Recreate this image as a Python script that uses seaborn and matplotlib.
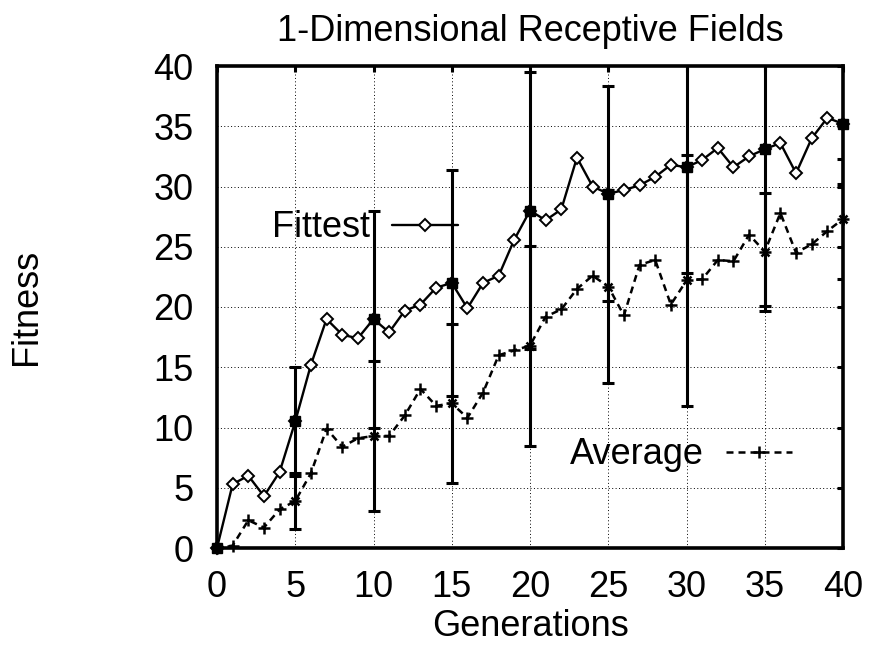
import matplotlib
matplotlib.use("Agg")
import matplotlib.pyplot as plt
import seaborn as sns
import pandas as pd

# ---- data ----
generations = list(range(41))
fittest = [0.0, 5.3, 6.0, 4.3, 6.3, 10.5, 15.2, 19.0, 17.7, 17.4,
           19.0, 17.9, 19.7, 20.2, 21.6, 22.0, 19.9, 22.0, 22.6, 25.6,
           28.0, 27.2, 28.1, 32.4, 30.0, 29.4, 29.7, 30.1, 30.8, 31.8,
           31.6, 32.2, 33.2, 31.6, 32.5, 33.1, 33.6, 31.1, 34.0, 35.7,
           35.2]
average = [0.0, 0.2, 2.3, 1.7, 3.2, 3.9, 6.2, 9.9, 8.4, 9.1,
           9.3, 9.3, 11.0, 13.2, 11.8, 12.0, 10.8, 12.9, 16.0, 16.4,
           16.8, 19.2, 19.8, 21.5, 22.6, 21.7, 19.3, 23.5, 23.9, 20.2,
           22.2, 22.3, 23.9, 23.8, 26.0, 24.6, 27.8, 24.5, 25.2, 26.3,
           27.3]
err_generations = [0, 5, 10, 15, 20, 25, 30, 35, 40]
fittest_err = [0.0, 4.5, 9.0, 9.4, 11.5, 8.9, 8.8, 13.0, 5.0]
average_err = [0.0, 2.3, 6.2, 6.6, 8.3, 8.0, 10.4, 4.9, 5.0]
ticks = [0, 5, 10, 15, 20, 25, 30, 35, 40]

sns.set_style("white")
plt.rcParams["font.family"] = ["Liberation Sans", "DejaVu Sans"]
plt.rcParams.update({"text.color": "black", "axes.labelcolor": "black",
                     "xtick.color": "black", "ytick.color": "black"})
FS = 26

fig = plt.figure(figsize=(8.69, 6.46), dpi=100)
ax = fig.add_axes([217 / 869, 1 - 548 / 646, 626 / 869, 482 / 646])

df = pd.DataFrame({"Generations": generations, "Fittest": fittest, "Average": average})

sns.lineplot(data=df, x="Generations", y="Fittest", ax=ax, color="black",
             linewidth=1.7, marker="D", markersize=6, markerfacecolor="white",
             markeredgecolor="black", markeredgewidth=1.4, clip_on=False, zorder=4)
line_fit = ax.lines[-1]
sns.lineplot(data=df, x="Generations", y="Average", ax=ax, color="black",
             linewidth=1.8, linestyle=(0, (2.8, 2.0)), marker="+", markersize=8,
             markeredgecolor="black", markeredgewidth=1.8, clip_on=False, zorder=4)
line_avg = ax.lines[-1]

# error bars at every 5th generation
fit_at = [fittest[g] for g in err_generations]
avg_at = [average[g] for g in err_generations]
ax.errorbar(err_generations, fit_at, yerr=fittest_err, fmt="none", ecolor="black",
            elinewidth=2.2, capsize=4, capthick=2.2, zorder=3)
ax.errorbar(err_generations, avg_at, yerr=average_err, fmt="none", ecolor="black",
            elinewidth=2.2, capsize=4, capthick=2.2, zorder=3)
ax.plot(err_generations, fit_at, "s", color="black", markersize=7.5, clip_on=False, zorder=5)
ax.plot(err_generations, avg_at, "x", color="black", markersize=6,
        markeredgewidth=1.8, clip_on=False, zorder=5)

ax.set_xlim(0, 40)
ax.set_ylim(0, 40)
ax.set_xticks(ticks)
ax.set_yticks(ticks)
ax.grid(True, linestyle=(0, (1, 2.5)), color="black", linewidth=0.7)
ax.set_axisbelow(True)
for s in ax.spines.values():
    s.set_linewidth(2.6)
    s.set_color("black")
    s.set_visible(True)
ax.tick_params(direction="in", length=4.5, width=2.2, top=True, right=True,
               labelsize=FS, colors="black")
ax.tick_params(axis="x", pad=16)
ax.tick_params(axis="y", pad=17)

ax.set_title("1-Dimensional Receptive Fields", fontsize=FS, pad=18)
ax.set_xlabel("Generations", fontsize=FS, labelpad=3)
ax.set_ylabel("Fitness", fontsize=FS)
ax.yaxis.set_label_coords(-0.277, 0.5)

leg1 = ax.legend(handles=[line_fit], labels=["Fittest"], loc="center right",
                 bbox_to_anchor=(0.385, 0.664), frameon=False, markerfirst=False,
                 numpoints=1, handlelength=1.83, handletextpad=0.61, borderpad=0,
                 borderaxespad=0, fontsize=FS)
ax.add_artist(leg1)
ax.legend(handles=[line_avg], labels=["Average"], loc="center right",
          bbox_to_anchor=(0.9185, 0.193), frameon=False, markerfirst=False,
          numpoints=1, handlelength=1.83, handletextpad=0.61, borderpad=0,
          borderaxespad=0, fontsize=FS)

fig.savefig("out.png", dpi=100)
